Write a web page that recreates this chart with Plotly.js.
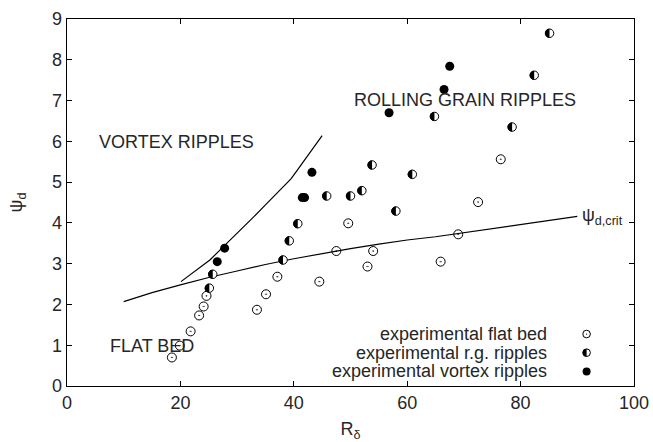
<!DOCTYPE html>
<html>
<head>
<meta charset="utf-8">
<script src="https://cdn.plot.ly/plotly-3.0.1.min.js"></script>
<style>html,body{margin:0;padding:0;background:#fff;}#chart{width:653px;height:442px;}</style>
</head>
<body>
<div id="chart"></div>
<script>
// Experimental flat bed
var flatX = [18.5, 19.9, 21.8, 23.3, 24.1, 24.6, 33.5, 35.1, 37.1, 44.5, 47.5, 53.0, 54.0, 65.9, 69.0, 49.6, 76.5, 72.5];
var flatY = [0.70, 0.99, 1.34, 1.73, 1.95, 2.21, 1.87, 2.25, 2.68, 2.56, 3.31, 2.93, 3.31, 3.05, 3.72, 3.99, 5.56, 4.51];
// Experimental rolling grain ripples
var rgX = [25.1, 25.7, 38.1, 39.2, 40.7, 45.8, 50.0, 52.0, 53.8, 58.0, 60.9, 64.8, 78.5, 82.4, 85.1];
var rgY = [2.40, 2.74, 3.09, 3.56, 3.98, 4.66, 4.66, 4.79, 5.42, 4.29, 5.19, 6.61, 6.35, 7.62, 8.65];
// Experimental vortex ripples
var vortexX = [26.5, 27.8, 41.5, 41.9, 43.2, 56.8, 66.5, 67.5];
var vortexY = [3.05, 3.38, 4.62, 4.62, 5.24, 6.70, 7.27, 7.84];
// Critical line psi_d,crit
var critX = [10, 15, 20, 25, 30, 35, 40, 45, 50, 55, 60, 65, 70, 75, 80, 85, 90];
var critY = [2.07, 2.29, 2.48, 2.66, 2.82, 2.98, 3.12, 3.25, 3.37, 3.48, 3.58, 3.66, 3.76, 3.86, 3.97, 4.06, 4.16];
// Vortex ripple boundary
var vortX = [20.1, 22.5, 25.2, 27.9, 30.0, 32.3, 35.0, 37.3, 39.5, 40.4, 42.5, 45.0];
var vortY = [2.56, 2.82, 3.09, 3.46, 3.74, 4.06, 4.44, 4.78, 5.08, 5.25, 5.65, 6.14];

var xTicks = [0, 20, 40, 60, 80, 100];
var yTicks = [0, 1, 2, 3, 4, 5, 6, 7, 8, 9];
var legendLabels = ['experimental flat bed', 'experimental r.g. ripples', 'experimental vortex ripples'];

var txt = '#262626';
var fam = 'Liberation Sans, Arial, Helvetica, sans-serif';

var traces = [
  {x: critX, y: critY, mode: 'lines', line: {color: '#000', width: 1.2}, hoverinfo: 'skip'},
  {x: vortX, y: vortY, mode: 'lines', line: {color: '#000', width: 1.2}, hoverinfo: 'skip'},
  {x: flatX, y: flatY, mode: 'markers', marker: {symbol: 'circle-open-dot', size: 9, color: '#000', line: {width: 1, color: '#000'}}},
  {x: rgX, y: rgY, mode: 'markers', marker: {symbol: 'circle', size: 8.5, color: '#fff', line: {width: 1, color: '#000'}}},
  {x: rgX, y: rgY, mode: 'markers', marker: {symbol: 'circle', size: 9, color: '#000', line: {width: 0}}},
  {x: vortexX, y: vortexY, mode: 'markers', marker: {symbol: 'circle', size: 9, color: '#000'}}
];

var legY = [0.1416, 0.0907, 0.0397];
var annotations = [
  {x: 5.3, y: 5.99, xref: 'x', yref: 'y', text: 'VORTEX RIPPLES', showarrow: false, xanchor: 'left', yanchor: 'middle', font: {family: fam, size: 18, color: txt}},
  {x: 50.2, y: 7.02, xref: 'x', yref: 'y', text: 'ROLLING GRAIN RIPPLES', showarrow: false, xanchor: 'left', yanchor: 'middle', font: {family: fam, size: 18, color: txt}},
  {x: 7.2, y: 0.99, xref: 'x', yref: 'y', text: 'FLAT BED', showarrow: false, xanchor: 'left', yanchor: 'middle', font: {family: fam, size: 18, color: txt}},
  {x: 90.4, y: 4.16, xref: 'x', yref: 'y', text: '\u03C8<sub>d,crit</sub>', showarrow: false, xanchor: 'left', yanchor: 'middle', font: {family: fam, size: 18, color: txt}}
];
for (var i = 0; i < 3; i++) {
  annotations.push({x: 0.8505, y: legY[i], xref: 'paper', yref: 'paper', text: legendLabels[i], showarrow: false,
    xanchor: 'right', yanchor: 'middle', font: {family: fam, size: 18, color: txt}});
}

var lx = 0.9164;
function pshape(type, yA, r, extra) {
  var s = {type: type, xref: 'paper', yref: 'paper', xsizemode: 'pixel', ysizemode: 'pixel', xanchor: lx, yanchor: yA};
  if (type === 'circle') { s.x0 = -r; s.x1 = r; s.y0 = -r; s.y1 = r; }
  for (var k in extra) s[k] = extra[k];
  return s;
}
var k = 0.5523 * 4;
var shapes = [
  pshape('circle', legY[0], 3.8, {line: {color: '#000', width: 1}, fillcolor: 'rgba(0,0,0,0)'}),
  pshape('circle', legY[0], 0.6, {line: {color: '#000', width: 0}, fillcolor: '#000'}),
  pshape('circle', legY[1], 3.8, {line: {color: '#000', width: 1}, fillcolor: '#fff'}),
  pshape('path', legY[1], 0, {path: 'M 0,4 C ' + (-k) + ',4 -4,' + k + ' -4,0 C -4,' + (-k) + ' ' + (-k) + ',-4 0,-4 Z',
    line: {color: '#000', width: 0}, fillcolor: '#000'}),
  pshape('circle', legY[2], 4, {line: {color: '#000', width: 0}, fillcolor: '#000'})
];

var layout = {
  width: 653, height: 442,
  margin: {l: 67, r: 19, t: 19, b: 56},
  paper_bgcolor: '#fff', plot_bgcolor: '#fff',
  showlegend: false,
  font: {family: fam, size: 18, color: txt},
  xaxis: {range: [0, 100], tickvals: xTicks, ticktext: xTicks.map(String), ticks: 'inside', ticklen: 5, tickcolor: '#000',
    showline: true, linecolor: '#000', linewidth: 1.3, mirror: 'ticks', showgrid: false, zeroline: false,
    tickfont: {family: fam, size: 18, color: txt},
    title: {text: 'R<sub>\u03B4</sub>', font: {family: fam, size: 18, color: txt}, standoff: 13}},
  yaxis: {range: [0, 9], tickvals: yTicks, ticktext: yTicks.map(String), ticks: 'inside', ticklen: 5, tickcolor: '#000',
    showline: true, linecolor: '#000', linewidth: 1.3, mirror: 'ticks', showgrid: false, zeroline: false,
    tickfont: {family: fam, size: 18, color: txt},
    title: {text: '\u03C8<sub>d</sub>', font: {family: fam, size: 18, color: txt}, standoff: 24}},
  annotations: annotations,
  shapes: shapes
};

Plotly.newPlot('chart', traces, layout, {displayModeBar: false, staticPlot: true}).then(function(gd) {
  // turn the black rg markers into left-half discs (left half black, right half white)
  var tr = gd.querySelectorAll('.scatterlayer .trace');
  var pts = tr[4].querySelectorAll('path.point');
  for (var i = 0; i < pts.length; i++) {
    pts[i].setAttribute('d', 'M0,-4.5A4.5,4.5 0 0,0 0,4.5Z');
  }
});
</script>
</body>
</html>
